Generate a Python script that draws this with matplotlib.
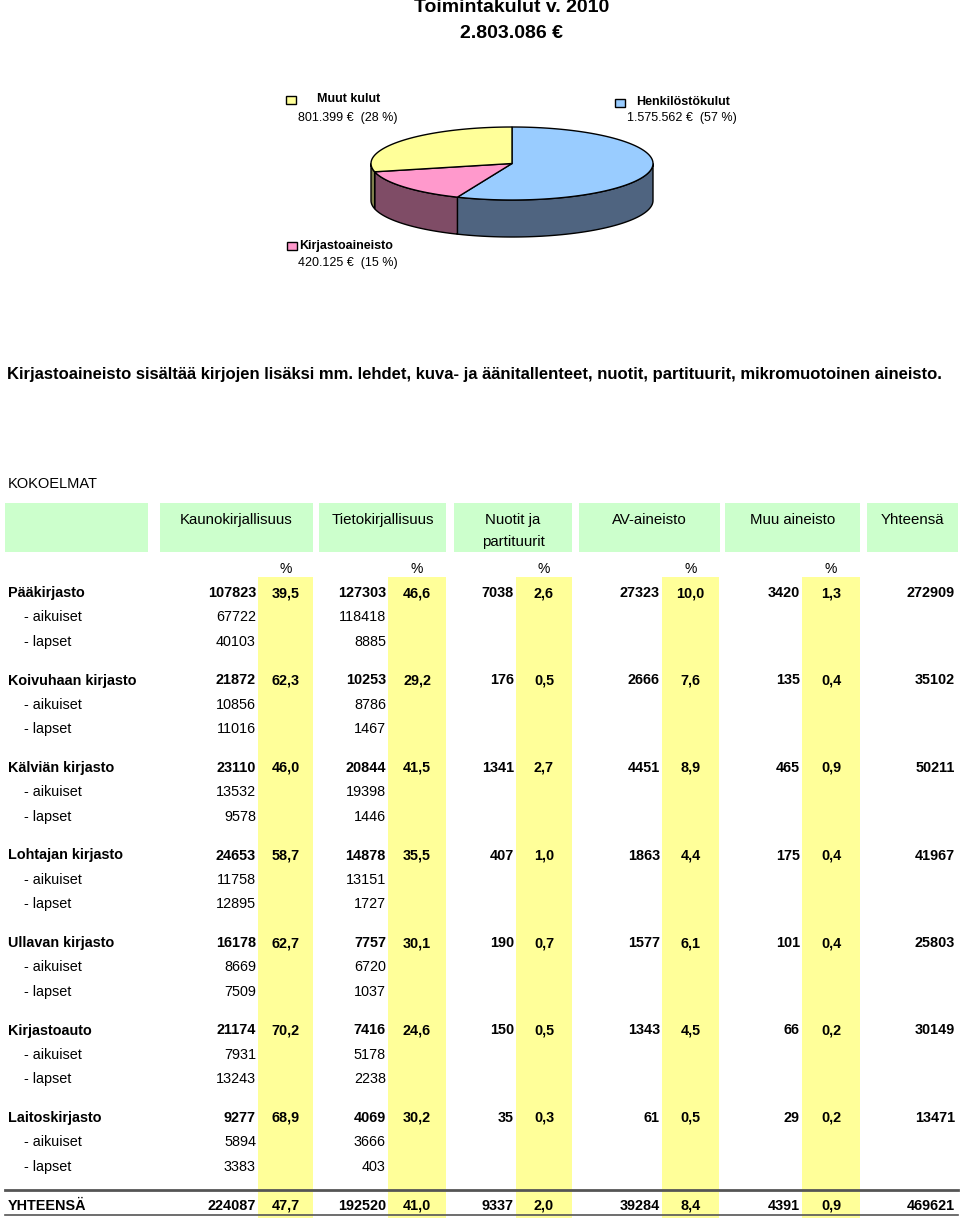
import matplotlib
matplotlib.use("Agg")
import matplotlib.pyplot as plt
import numpy as np
from matplotlib.patches import Polygon, Rectangle

plt.rcParams['font.family'] = ['Liberation Sans', 'DejaVu Sans']

# ---------------- data ----------------
title_lines = ["Toimintakulut v. 2010", "2.803.086 €"]
pie_labels = ["Henkilöstökulut", "Kirjastoaineisto", "Muut kulut"]
pie_values = [1575562, 420125, 801399]
pie_value_texts = ["1.575.562 €  (57 %)", "420.125 €  (15 %)", "801.399 €  (28 %)"]
pie_top_colors = ["#99CCFF", "#FF99CC", "#FFFF99"]
pie_side_colors = ["#4F6480", "#7F4C66", "#80804C"]

note_text = ("Kirjastoaineisto sisältää kirjojen lisäksi mm. lehdet, kuva- ja "
             "äänitallenteet, nuotit, partituurit, mikromuotoinen aineisto.")
table_title = "KOKOELMAT"
col_headers = ["Kaunokirjallisuus", "Tietokirjallisuus", "Nuotit ja\npartituurit",
               "AV-aineisto", "Muu aineisto", "Yhteensä"]

libraries = ["Pääkirjasto", "Koivuhaan kirjasto", "Kälviän kirjasto", "Lohtajan kirjasto",
             "Ullavan kirjasto", "Kirjastoauto", "Laitoskirjasto"]
kauno = [107823, 21872, 23110, 24653, 16178, 21174, 9277]
kauno_pct = ["39,5", "62,3", "46,0", "58,7", "62,7", "70,2", "68,9"]
tieto = [127303, 10253, 20844, 14878, 7757, 7416, 4069]
tieto_pct = ["46,6", "29,2", "41,5", "35,5", "30,1", "24,6", "30,2"]
nuotit = [7038, 176, 1341, 407, 190, 150, 35]
nuotit_pct = ["2,6", "0,5", "2,7", "1,0", "0,7", "0,5", "0,3"]
av = [27323, 2666, 4451, 1863, 1577, 1343, 61]
av_pct = ["10,0", "7,6", "8,9", "4,4", "6,1", "4,5", "0,5"]
muu = [3420, 135, 465, 175, 101, 66, 29]
muu_pct = ["1,3", "0,4", "0,9", "0,4", "0,4", "0,2", "0,2"]
yhteensa = [272909, 35102, 50211, 41967, 25803, 30149, 13471]
kauno_aikuiset = [67722, 10856, 13532, 11758, 8669, 7931, 5894]
kauno_lapset = [40103, 11016, 9578, 12895, 7509, 13243, 3383]
tieto_aikuiset = [118418, 8786, 19398, 13151, 6720, 5178, 3666]
tieto_lapset = [8885, 1467, 1446, 1727, 1037, 2238, 403]
sub_labels = ["- aikuiset", "- lapset"]

total_label = "YHTEENSÄ"
total_values = [224087, 192520, 9337, 39284, 4391, 469621]
total_pcts = ["47,7", "41,0", "2,0", "8,4", "0,9"]

# ---------------- figure ----------------
W, H = 960, 1218
fig = plt.figure(figsize=(W / 100, H / 100), dpi=100)
ax = fig.add_axes([0, 0, 1, 1])
ax.set_xlim(0, W)
ax.set_ylim(H, 0)
ax.axis('off')

# title
ax.text(512, 8, title_lines[0], ha='center', va='center', fontsize=14, fontweight='bold')
ax.text(512, 33, title_lines[1], ha='center', va='center', fontsize=14, fontweight='bold')

# ---------------- 3D pie ----------------
cx, cy, ra, rb, depth = 512, 163.5, 141, 36.5, 37
total = float(sum(pie_values))
ranges = []
start = 90.0
for v in pie_values:
    end = start - 360.0 * v / total
    ranges.append((end, start))
    start = end


def pt(theta_deg, dy=0.0):
    t = np.radians(theta_deg)
    return cx + ra * np.cos(t), cy - rb * np.sin(t) + dy


# sides (front half: 180..360 deg)
for (t0, t1), col in zip(ranges, pie_side_colors):
    lo, hi = t0 % 360, t0 % 360 + (t1 - t0)
    segs = []
    for base in (0, 360, -360):
        a0 = max(lo + base, 180)
        a1 = min(hi + base, 360)
        if a1 > a0:
            segs.append((a0, a1))
    for a0, a1 in segs:
        th = np.linspace(a0, a1, 120)
        top = [pt(t) for t in th]
        bot = [pt(t, depth) for t in th[::-1]]
        ax.add_patch(Polygon(top + bot, closed=True, facecolor=col, edgecolor='black', lw=1.0, zorder=2))

# top faces
for (t0, t1), col in zip(ranges, pie_top_colors):
    th = np.linspace(t0, t1, 200)
    pts = [(cx, cy)] + [pt(t) for t in th]
    ax.add_patch(Polygon(pts, closed=True, facecolor=col, edgecolor='black', lw=1.0, zorder=3))

# pie labels
label_pos = {
    "Henkilöstökulut": dict(box=(615, 99), name=(636, 102), val=(682, 118)),
    "Kirjastoaineisto": dict(box=(287, 242), name=(299, 246), val=(348, 263)),
    "Muut kulut": dict(box=(286, 96), name=(317, 99), val=(348, 118)),
}
for lab, vt, col in zip(pie_labels, pie_value_texts, pie_top_colors):
    p = label_pos[lab]
    bx, by = p['box']
    ax.add_patch(Rectangle((bx, by), 10, 8, facecolor=col, edgecolor='black', lw=1.0, zorder=4))
    ax.text(p['name'][0], p['name'][1], lab, ha='left', va='center', fontsize=9, fontweight='bold')
    ax.text(p['val'][0], p['val'][1], vt, ha='center', va='center', fontsize=9)

# note (bold, fitted to the reference line width)
note = ax.text(7, 374, note_text, ha='left', va='center', fontsize=11, fontweight='bold')
fig.canvas.draw()
r = fig.canvas.get_renderer()
wpx = note.get_window_extent(renderer=r).width
note.set_fontsize(11 * 945.0 / wpx)

# ---------------- table ----------------
ax.text(8, 484, table_title, ha='left', va='center', fontsize=10.5)

green = "#CCFFCC"
yellow = "#FFFF99"
header_cells = [(5, 148), (160, 313), (319, 446), (454, 572), (579, 720), (725, 860), (867, 958)]
hy0, hy1 = 503, 552
for x0, x1 in header_cells:
    ax.add_patch(Rectangle((x0, hy0), x1 - x0, hy1 - hy0, facecolor=green, edgecolor='none', zorder=1))
for (x0, x1), txt in zip(header_cells[1:], col_headers):
    xc = (x0 + x1) / 2
    if "\n" in txt:
        l1, l2 = txt.split("\n")
        ax.text(xc, 520, l1, ha='center', va='center', fontsize=10.8)
        ax.text(xc, 542, l2, ha='center', va='center', fontsize=10.8)
    else:
        ax.text(xc, 520, txt, ha='center', va='center', fontsize=10.8)

yellow_bands = [(258, 313), (388, 446), (516, 572), (662, 719), (802, 860)]
for x0, x1 in yellow_bands:
    ax.add_patch(Rectangle((x0, 577), x1 - x0, H - 577, facecolor=yellow, edgecolor='none', zorder=1))
    ax.text((x0 + x1) / 2, 569, "%", ha='center', va='center', fontsize=10)

num_right = [x0 - 2 for x0, _ in yellow_bands] + [955]
pct_center = [(x0 + x1) / 2 for x0, x1 in yellow_bands]

fs = 10.4
group_y0, group_dy, sub_dy = 593, 87.5, 24.3
main_cols = [kauno, tieto, nuotit, av, muu]
pct_cols = [kauno_pct, tieto_pct, nuotit_pct, av_pct, muu_pct]
for i, lib in enumerate(libraries):
    y = group_y0 + i * group_dy
    ax.text(8, y, lib, ha='left', va='center', fontsize=fs, fontweight='bold', zorder=5)
    for j in range(5):
        ax.text(num_right[j], y, str(main_cols[j][i]), ha='right', va='center',
                fontsize=fs, fontweight='bold', zorder=5)
        ax.text(pct_center[j], y, pct_cols[j][i], ha='center', va='center',
                fontsize=fs, fontweight='bold', zorder=5)
    ax.text(num_right[5], y, str(yhteensa[i]), ha='right', va='center',
            fontsize=fs, fontweight='bold', zorder=5)
    subs = [(kauno_aikuiset[i], tieto_aikuiset[i]), (kauno_lapset[i], tieto_lapset[i])]
    for k, (sl, (kv, tv)) in enumerate(zip(sub_labels, subs)):
        ys = y + (k + 1) * sub_dy
        ax.text(24, ys, sl, ha='left', va='center', fontsize=fs, zorder=5)
        ax.text(num_right[0], ys, str(kv), ha='right', va='center', fontsize=fs, zorder=5)
        ax.text(num_right[1], ys, str(tv), ha='right', va='center', fontsize=fs, zorder=5)

# totals row
ax.plot([5, 958], [1190, 1190], color='#555555', lw=2.0, zorder=4)
ax.plot([5, 958], [1215, 1215], color='#555555', lw=1.2, zorder=4)
yt = 1206
ax.text(8, yt, total_label, ha='left', va='center', fontsize=fs, fontweight='bold', zorder=5)
for j in range(6):
    ax.text(num_right[j], yt, str(total_values[j]), ha='right', va='center',
            fontsize=fs, fontweight='bold', zorder=5)
for j in range(5):
    ax.text(pct_center[j], yt, total_pcts[j], ha='center', va='center',
            fontsize=fs, fontweight='bold', zorder=5)

fig.savefig("out.png", dpi=100)
